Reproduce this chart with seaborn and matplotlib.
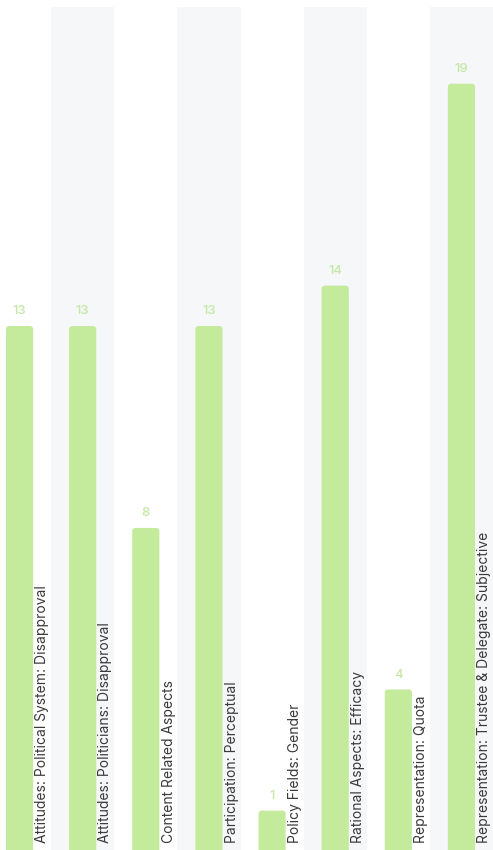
import numpy as np
import pandas as pd
import matplotlib
matplotlib.use("Agg")
import matplotlib.pyplot as plt
import seaborn as sns
from matplotlib.patches import FancyBboxPatch

categories = [
    "Attitudes: Political System: Disapproval",
    "Attitudes: Politicians: Disapproval",
    "Content Related Aspects",
    "Participation: Perceptual",
    "Policy Fields: Gender",
    "Rational Aspects: Efficacy",
    "Representation: Quota",
    "Representation: Trustee & Delegate: Subjective",
]
counts = [13, 13, 8, 13, 1, 14, 4, 19]

df = pd.DataFrame({"category": categories, "count": counts})

sns.set_theme(style="white")
plt.rcParams["font.family"] = ["Inter", "DejaVu Sans"]

fig = plt.figure(figsize=(4.93, 8.5), dpi=100)
# axes spans from y=7px to y=851px (slightly below the figure edge)
ax = fig.add_axes([0, -1 / 850, 1, 844 / 850])

bar_color = "#c3eb9b"
sns.barplot(data=df, x="category", y="count", color=bar_color, width=0.43,
            saturation=1, ax=ax)
bars = list(ax.patches)

ax.set_xlim(-0.31, 7.5)
ax.set_ylim(0, 20.9)

# rounded top corners
for p in bars:
    x, y, w, h = p.get_x(), p.get_y(), p.get_width(), p.get_height()
    p.remove()
    fb = FancyBboxPatch((x, y - 0.3), w, h + 0.3,
                        boxstyle="round,pad=0,rounding_size=0.05",
                        mutation_aspect=1.56, fc=bar_color, ec="none", zorder=2)
    ax.add_patch(fb)

# alternating column background
for i in range(len(categories)):
    if i % 2 == 1:
        ax.axvspan(i - 0.5, i + 0.5, color="#f6f7f9", zorder=0, lw=0)

for i, (cat, v) in enumerate(zip(categories, counts)):
    ax.text(i, v + 0.22, str(v), ha="center", va="bottom", fontsize=9.5,
            color="#c4e8a6", fontweight="medium", zorder=3)
    ax.text(i + 0.36, 0.2, cat, rotation=90, ha="center", va="bottom",
            fontsize=10, color="#3a3a3a", zorder=3)

ax.set_xticks([])
ax.set_yticks([])
ax.set_xlabel("")
ax.set_ylabel("")
for s in ax.spines.values():
    s.set_visible(False)

fig.savefig("out.png", dpi=100)
